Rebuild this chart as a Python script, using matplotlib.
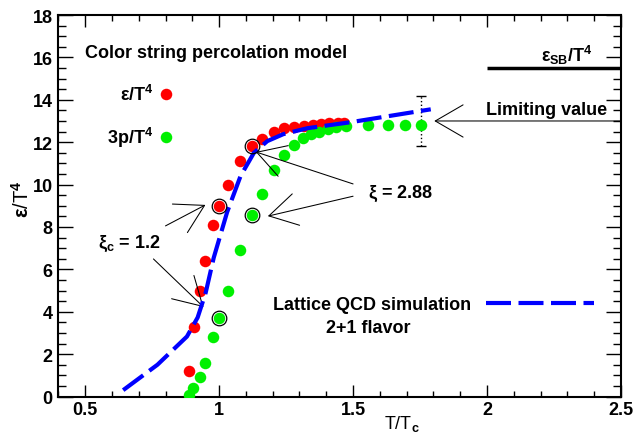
import matplotlib
matplotlib.use("Agg")
import matplotlib.pyplot as plt
from matplotlib.lines import Line2D
from matplotlib.ticker import MultipleLocator

plt.rcParams['font.family'] = ['Liberation Sans', 'DejaVu Sans']
plt.rcParams['font.weight'] = 'bold'
plt.rcParams['mathtext.fontset'] = 'custom'
plt.rcParams['mathtext.rm'] = 'Liberation Sans'
plt.rcParams['mathtext.it'] = 'Liberation Sans'
plt.rcParams['mathtext.bf'] = 'Liberation Sans:bold'

# Color string percolation: energy density
eps_T = [0.886, 0.905, 0.927, 0.949, 0.979, 0.998, 1.035, 1.077, 1.122, 1.159,
         1.204, 1.242, 1.279, 1.316, 1.350, 1.380, 1.410, 1.444, 1.466]
eps_val = [1.2, 3.3, 5.0, 6.4, 8.1, 9.0, 10.0, 11.1, 11.8, 12.15,
           12.47, 12.66, 12.71, 12.75, 12.8, 12.85, 12.9, 12.9, 12.9]

# Color string percolation: 3p/T^4
p_T = [0.886, 0.904, 0.927, 0.949, 0.979, 0.998, 1.032, 1.077, 1.122, 1.159,
       1.204, 1.242, 1.279, 1.313, 1.343, 1.373, 1.406, 1.436, 1.474, 1.556,
       1.631, 1.695, 1.755]
p_val = [0.08, 0.38, 0.9, 1.6, 2.83, 3.7, 4.96, 6.9, 8.55, 9.54,
         10.68, 11.38, 11.86, 12.18, 12.38, 12.5, 12.62, 12.7, 12.78, 12.8,
         12.8, 12.8, 12.8]

# points marked with circles (xi_c = 1.2 and xi = 2.88)
circled_idx = [5, 8]

# Lattice QCD 2+1 flavor
lat_T = [0.642, 0.77, 0.88, 0.92, 0.95, 0.98, 1.03, 1.08, 1.13, 1.18,
         1.24, 1.33, 1.49, 1.79]
lat_val = [0.3, 1.5, 2.83, 3.73, 4.9, 6.55, 8.7, 10.4, 11.5, 12.05,
           12.38, 12.66, 12.94, 13.55]

# limiting value with its uncertainty, Stefan-Boltzmann limit
lim_T = 1.755
lim_val = 13.0
lim_err = 1.17
sb_T = [2.0, 2.5]
sb_val = 15.5

red = "#ff0000"
green = "#00f000"
blue = "#0000ff"
fs = 13

fig = plt.figure(figsize=(6.41, 4.35), dpi=100)
ax = fig.add_axes([0.0910, 0.0862, 0.8778, 0.8770])

ax.plot(eps_T, eps_val, 'o', color=red, ms=8.3, mec='none', zorder=3)
ax.plot(p_T, p_val, 'o', color=green, ms=8.3, mec='none', zorder=3)
ax.plot([eps_T[i] for i in circled_idx], [eps_val[i] for i in circled_idx], 'o',
        ms=10.5, mfc='none', mec='black', mew=0.9, zorder=5)
ax.plot([p_T[i] for i in circled_idx], [p_val[i] for i in circled_idx], 'o',
        ms=10.5, mfc='none', mec='black', mew=0.9, zorder=5)
lat_line, = ax.plot(lat_T, lat_val, color=blue, lw=3, dashes=(6, 1.8),
                    dash_capstyle='butt', zorder=4)

# error bar of the limiting value
eb = ax.errorbar([lim_T], [lim_val], yerr=[lim_err], fmt='none', ecolor='black',
                 elinewidth=1, capsize=3.6, capthick=1, zorder=2)
eb[2][0].set_linestyle(':')

# Stefan-Boltzmann line
ax.plot(sb_T, [sb_val, sb_val], color='black', lw=2.5, solid_capstyle='butt')

arrow = dict(arrowstyle='->,head_length=1.0,head_width=0.58', mutation_scale=20,
             lw=0.75, color='black', shrinkA=0, shrinkB=0)
ax.annotate('', xy=(1.803, lim_val), xytext=(2.5, lim_val), arrowprops=arrow)
ax.annotate('', xy=(1.137, 11.54), xytext=(1.50, 10.03), arrowprops=arrow)
ax.annotate('', xy=(1.182, 8.51), xytext=(1.50, 9.45), arrowprops=arrow)
ax.annotate('', xy=(0.949, 9.04), xytext=(0.80, 8.05), arrowprops=arrow)
ax.annotate('', xy=(0.942, 4.22), xytext=(0.755, 6.49), arrowprops=arrow)

ax.text(0.5, 16.02, 'Color string percolation model', fontsize=fs, va='baseline')
ax.text(2.447, 13.33, 'Limiting value', fontsize=fs, ha='right', va='baseline')
ax.text(2.395, 15.83, r'$\varepsilon_{\mathbf{SB}}$/T$^{\mathbf{4}}$', fontsize=fs,
        ha='right', va='baseline')
ax.text(1.556, 9.41, r'$\xi$ = 2.88', fontsize=fs, va='baseline')
ax.text(0.549, 7.06, r'$\xi_{\mathbf{c}}$ = 1.2', fontsize=fs, va='baseline')
ax.text(1.556, 3.04, '2+1 flavor', fontsize=fs, ha='center', va='baseline')

# legends
h1 = Line2D([], [], ls='none', marker='o', color=red, ms=8.3, mec='none')
h2 = Line2D([], [], ls='none', marker='o', color=green, ms=8.3, mec='none')
leg1 = ax.legend([h1, h2], [r'$\varepsilon$/T$^{\mathbf{4}}$', r'3p/T$^{\mathbf{4}}$'],
                 loc='center left', bbox_to_anchor=(0.0866, 0.734), frameon=False,
                 markerfirst=False, numpoints=1, handlelength=0.8, handletextpad=0.3,
                 labelspacing=1.15, borderpad=0, borderaxespad=0, fontsize=fs)
ax.add_artist(leg1)
ax.legend([lat_line], ['Lattice QCD simulation'], loc='center left',
          bbox_to_anchor=(0.3816, 0.240), frameon=False, markerfirst=False,
          handlelength=6.0, handletextpad=0.83, borderpad=0, borderaxespad=0,
          fontsize=fs)

ax.set_xlim(0.4, 2.5)
ax.set_ylim(0, 18)
ax.xaxis.set_major_locator(MultipleLocator(0.5))
ax.xaxis.set_minor_locator(MultipleLocator(0.1))
ax.yaxis.set_major_locator(MultipleLocator(2))
ax.yaxis.set_minor_locator(MultipleLocator(0.5))
ax.set_xticks([0.5, 1, 1.5, 2, 2.5])
ax.set_xticklabels(['0.5', '1', '1.5', '2', '2.5'])
ax.tick_params(which='both', direction='in', top=True, right=True, width=1,
               labelsize=fs)
ax.tick_params(axis='x', which='major', length=8.5, pad=3)
ax.tick_params(axis='x', which='minor', length=4.3)
ax.tick_params(axis='y', which='major', length=11, pad=4)
ax.tick_params(axis='y', which='minor', length=5.5)
for s in ax.spines.values():
    s.set_linewidth(1.5)

ax.set_ylabel(r'$\varepsilon$/T$^{\mathbf{4}}$', fontsize=14.5)
ax.yaxis.set_label_coords(-0.046, 0.52)
ax.set_xlabel(r'T/T$_{\mathbf{c}}$', fontsize=fs)
ax.xaxis.set_label_coords(0.61, -0.082)
ax.xaxis.label.set_va('baseline')

fig.savefig("out.png", dpi=100)
